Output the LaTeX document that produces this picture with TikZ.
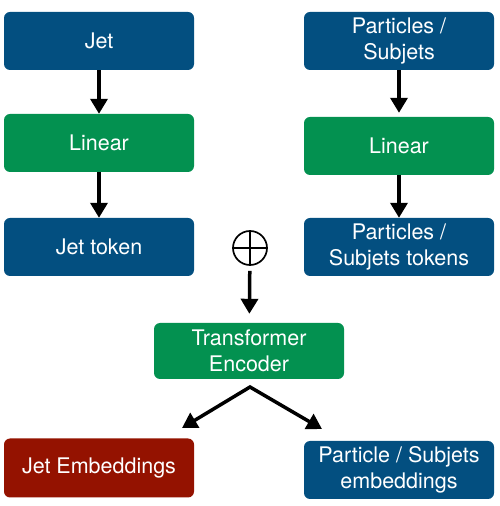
\documentclass[tikz,border=0pt]{standalone}
\usepackage{fontspec}
\setmainfont{TeX Gyre Heros}
\usepackage{tikz}
\usepackage{xcolor}
\definecolor{JetBlue}{HTML}{034F80}
\definecolor{JetGreen}{HTML}{039150}
\definecolor{JetRed}{HTML}{941200}
\usetikzlibrary{positioning,arrows.meta}

\begin{document}
\begin{tikzpicture}[x=1pt, y=1pt,
  box/.style={rounded corners=6pt, minimum width=190pt, minimum height=58pt, inner sep=0pt,
    text=white, align=center, font=\fontsize{21.5}{25.5}\selectfont},
  bluebox/.style={box, fill=JetBlue},
  greenbox/.style={box, fill=JetGreen},
  redbox/.style={box, fill=JetRed},
  arr/.style={line width=3.5pt, -{Triangle[length=15pt,width=17pt]}}]
  \useasboundingbox (0,0) rectangle (499,506);
  % jet branch
  \node[bluebox] (jet) at (99,465) {Jet};
  \node[greenbox] (linJ) at (99,363) {Linear};
  \node[bluebox] (tokJ) at (99,259) {Jet token};
  % particle branch
  \node[bluebox] (part) at (399,465) {Particles /\\Subjets};
  \node[greenbox] (linP) at (399,360) {Linear};
  \node[bluebox] (tokP) at (399,259) {Particles /\\Subjets tokens};
  % concatenation and encoder
  \node[circle, draw, line width=1.7pt, minimum size=34pt, inner sep=0pt] (plus) at (250,258) {};
  \draw[line width=1.7pt] (plus.north) -- (plus.south) (plus.west) -- (plus.east);
  \node[greenbox, minimum height=56pt] (enc) at (249,155) {Transformer\\Encoder};
  % outputs
  \node[redbox, minimum height=59pt] (embJ) at (99,38) {Jet Embeddings};
  \node[bluebox] (embP) at (399,36) {Particle / Subjets\\embeddings};
  \coordinate (split) at (250,119);
  \coordinate (tipJ) at (182,78);
  \coordinate (tipP) at (322,77);
  % arrows
  \draw[arr] (jet) -- (linJ);
  \draw[arr] (linJ) -- (tokJ);
  \draw[arr, shorten >=4pt] (part) -- (linP);
  \draw[arr] (linP) -- (tokP);
  \draw[arr, shorten <=5pt, shorten >=9pt] (plus) -- (enc);
  \draw[line width=3.5pt, line join=miter, {Triangle[length=15pt,width=17pt]}-{Triangle[length=15pt,width=17pt]}]
    (tipJ) -- (split) -- (tipP);
\end{tikzpicture}
\end{document}
